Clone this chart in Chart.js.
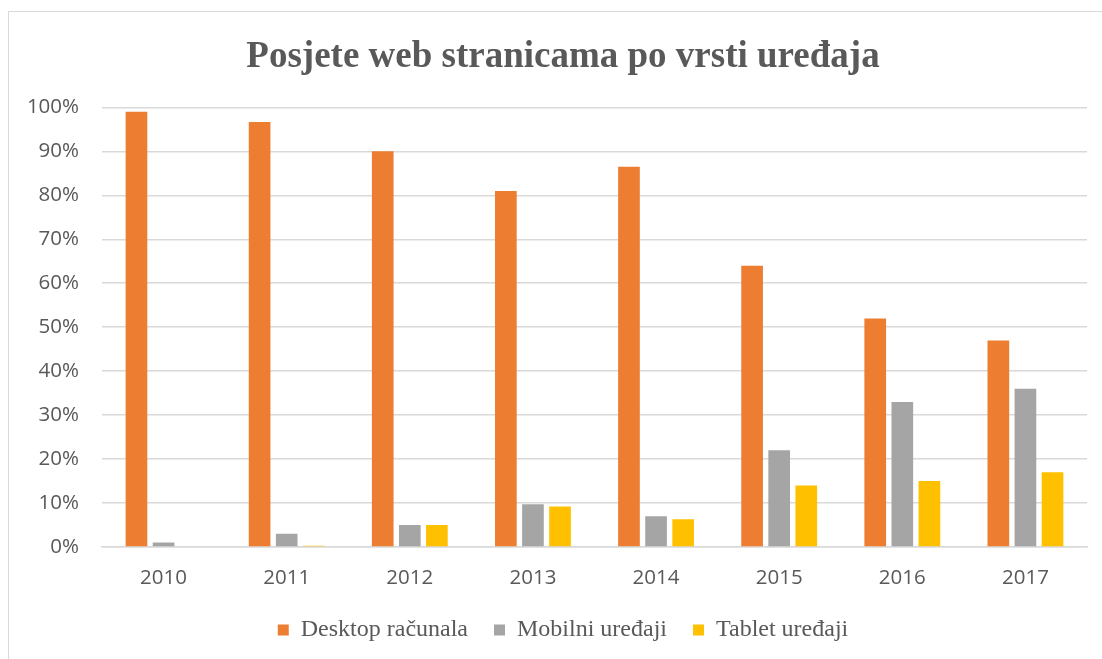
<!DOCTYPE html>
<html>
<head>
<meta charset="utf-8">
<script src="https://cdn.jsdelivr.net/npm/chart.js@4/dist/chart.umd.min.js"></script>
<style>
  html, body { margin: 0; padding: 0; background: #fff; overflow: hidden; }
  #wrap { position: relative; width: 1102px; height: 659px; }
  #frame { position: absolute; left: 8px; top: 11px; width: 1200px; height: 700px; border: 1px solid #d9d9d9; box-sizing: border-box; }
  canvas { position: absolute; left: 0; top: 0; }
</style>
</head>
<body>
<div id="wrap">
  <div id="frame"></div>
  <canvas id="myChart" width="1102" height="659"></canvas>
</div>
<script>
const years = ["2010", "2011", "2012", "2013", "2014", "2015", "2016", "2017"];
const desktop = [99, 96.7, 90, 81, 86.5, 64, 52, 47];
const mobile = [1, 3, 5, 9.7, 7, 22, 33, 36];
const tablet = [0, 0.3, 5, 9.2, 6.3, 14, 15, 17];
const yTicks = [0, 10, 20, 30, 40, 50, 60, 70, 80, 90, 100];

const textColor = "#595959";
const gridColor = "#d9d9d9";

const ctx = document.getElementById("myChart");

new Chart(ctx, {
  type: "bar",
  data: {
    labels: years,
    datasets: [
      { label: "Desktop računala", data: desktop, backgroundColor: "#ED7D31" },
      { label: "Mobilni uređaji", data: mobile, backgroundColor: "#A5A5A5" },
      { label: "Tablet uređaji", data: tablet, backgroundColor: "#FFC000" },
    ],
  },
  options: {
    responsive: false,
    animation: false,
    categoryPercentage: 0.66,
    barPercentage: 0.8,
    layout: {
      padding: { left: 24, right: 0, top: 0, bottom: 7 },
    },
    scales: {
      x: {
        grid: { display: false, drawTicks: false },
        border: { display: true, color: gridColor, width: 1.5 },
        afterFit: (scale) => {
          scale.height = 45;
        },
        ticks: {
          color: textColor,
          padding: 19,
          font: { family: "'Open Sans'", size: 20.5 },
        },
      },
      y: {
        min: 0,
        max: 100,
        afterBuildTicks: (scale) => {
          scale.ticks = yTicks.map((v) => ({ value: v }));
        },
        afterFit: (scale) => {
          scale.width = 78;
        },
        grid: { color: gridColor, lineWidth: 1.5, drawTicks: false },
        border: { display: false },
        ticks: {
          color: textColor,
          padding: 23,
          font: { family: "'Open Sans'", size: 20.5 },
          callback: (v) => v + "%",
        },
      },
      // empty right-hand spacer so title and legend centre like the original
      spacer: {
        position: "right",
        grid: { display: false, drawTicks: false },
        border: { display: false },
        ticks: { display: false },
        afterFit: (scale) => {
          scale.width = 15;
        },
      },
    },
    plugins: {
      title: {
        display: true,
        text: "Posjete web stranicama po vrsti uređaja",
        color: textColor,
        font: { family: "'Liberation Serif'", size: 37, weight: "bold" },
        padding: { top: 35, bottom: 28 },
      },
      legend: {
        position: "bottom",
        labels: {
          color: textColor,
          boxWidth: 11,
          boxHeight: 11,
          padding: 26,
          font: { family: "'Liberation Serif'", size: 24 },
        },
      },
      tooltip: { enabled: false },
    },
  },
});
</script>
</body>
</html>
